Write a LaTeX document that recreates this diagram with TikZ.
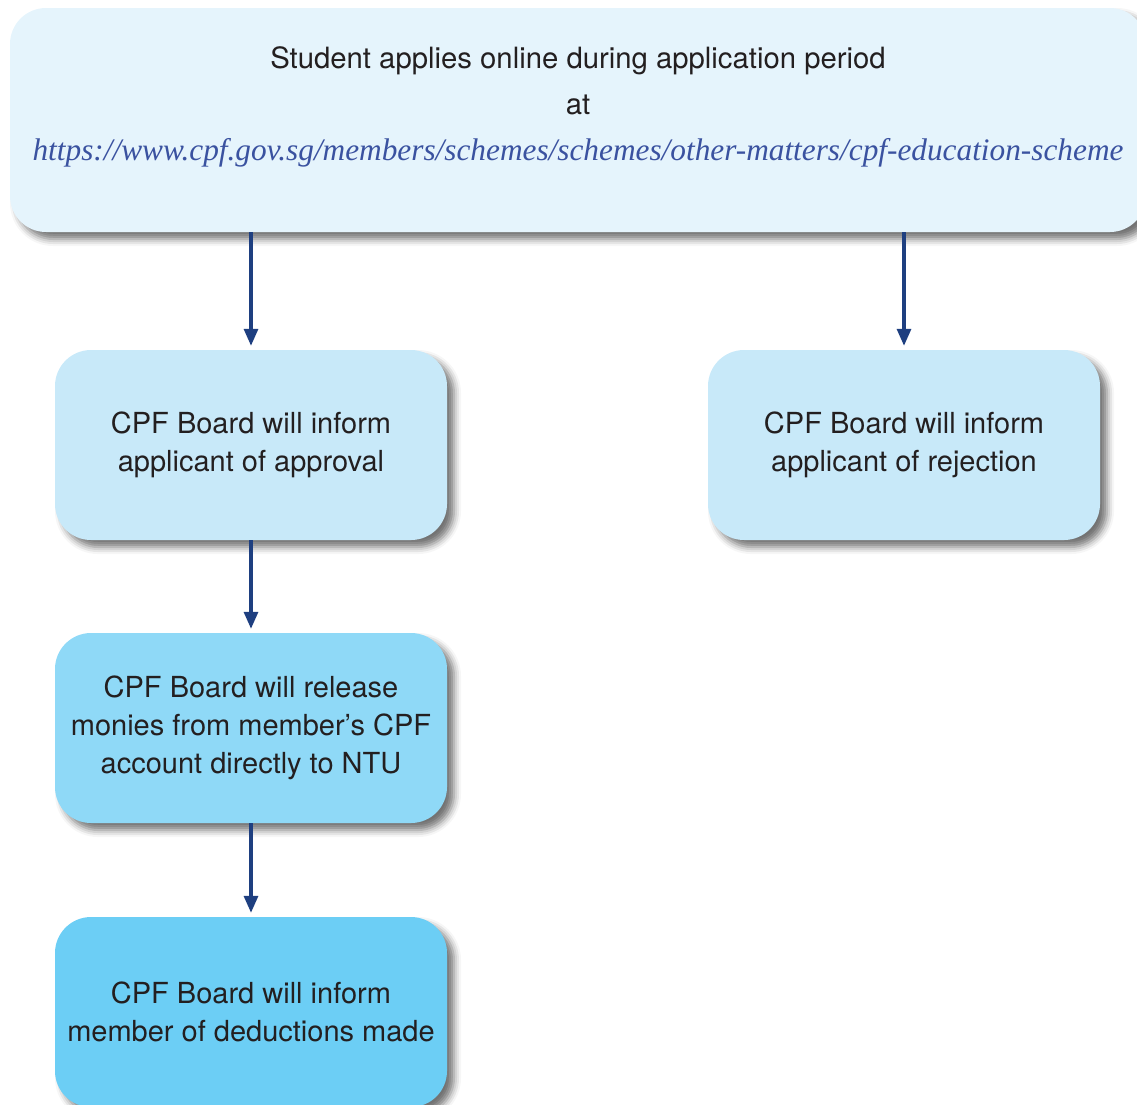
\documentclass[tikz,border=0pt]{standalone}
\usepackage{fontspec}
\setmainfont{TeX Gyre Heros}
\newfontfamily\urlfont{Liberation Serif}
\usetikzlibrary{positioning}
\usetikzlibrary{arrows.meta}
\usetikzlibrary{shadows.blur}

\definecolor{boxtop}{HTML}{E5F4FC}
\definecolor{boxpale}{HTML}{C8E9F9}
\definecolor{boxmid}{HTML}{8FD9F7}
\definecolor{boxdeep}{HTML}{6CCEF5}
\definecolor{arrowblue}{HTML}{1E3F80}
\definecolor{urlblue}{HTML}{3A52A0}
\definecolor{textdark}{HTML}{231F20}

\begin{document}
\begin{tikzpicture} [x=1pt, y=-1pt]
% -------------------------------------------------
\tikzset{
  base/.style={rectangle, rounded corners=36pt, align=center, text=textdark,
    font=\fontsize{29}{38}\selectfont,
    blur shadow={shadow xshift=7pt, shadow yshift=-7pt, shadow blur radius=7pt, shadow opacity=55}},
  rect/.style={base, minimum width=392pt, minimum height=190pt, inner sep=0pt},
  line/.style={draw=arrowblue, line width=3.2pt, -{Triangle[length=17pt, width=14pt]}, shorten >=4pt}
}

    \useasboundingbox (0,0) rectangle (1137,1104);                  % page size

    \node [base, fill=boxtop, minimum width=1136pt, minimum height=224pt,
           font=\fontsize{29.3}{46}\selectfont] (apl) at (578,120)
          {Student applies online during application period\\ at\\
           {\urlfont\itshape\color{urlblue}\fontsize{31.3}{46}\selectfont https://www.cpf.gov.sg/members/schemes/schemes/other-matters/cpf-education-scheme}\\[-14pt]~};

    \node [rect, fill=boxpale] (apv) at (251,445) {CPF Board will inform\\ applicant of approval};
    \node [rect, fill=boxpale] (rej) at (904,445) {CPF Board will inform\\ applicant of rejection};
    \node [rect, fill=boxmid] (rel) at (251,728) {CPF Board will release\\ monies from member’s CPF\\ account directly to NTU};
    \node [rect, fill=boxdeep] (ded) at (251,1012) {CPF Board will inform\\ member of deductions made};

    \path [line] (apl.south -| apv.north) -- (apv.north);
    \path [line] (apl.south -| rej.north) -- (rej.north);
    \path [line] (apv) -- (rel);
    \path [line] (rel) -- (ded);

\end{tikzpicture}
\end{document}
